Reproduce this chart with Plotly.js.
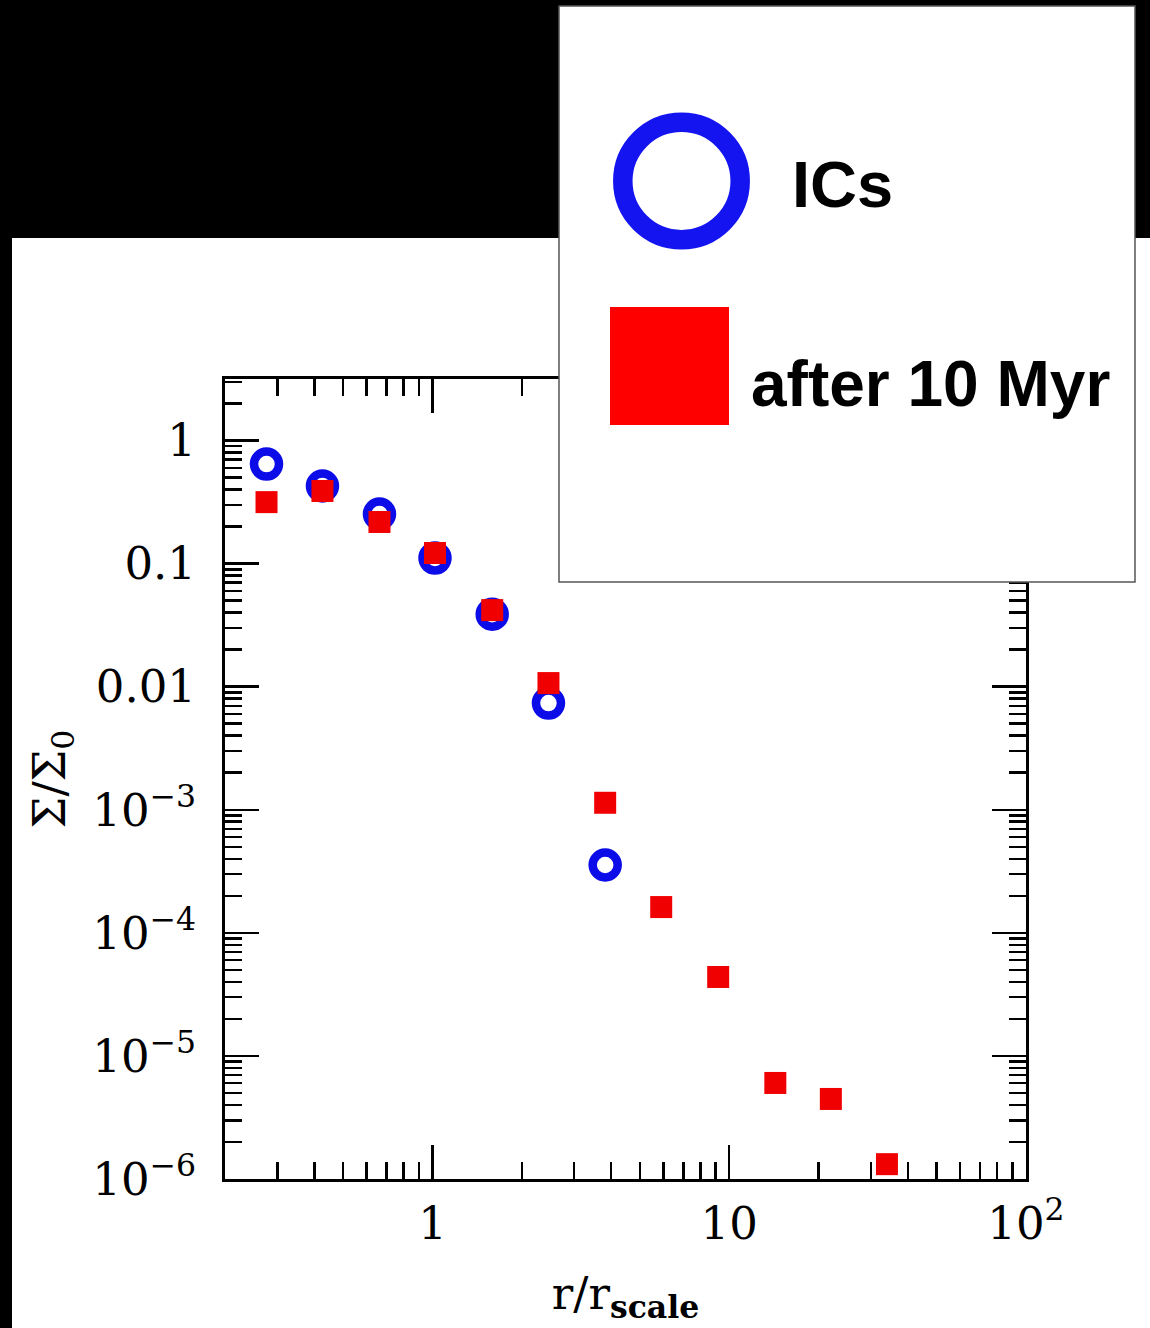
<!DOCTYPE html>
<html>
<head>
<meta charset="utf-8">
<script src="https://cdn.plot.ly/plotly-3.0.1.min.js"></script>
<style>html,body{margin:0;padding:0;background:#000;}#chart{width:1150px;height:1328px;}</style>
</head>
<body>
<div id="chart"></div>
<script>
// ---- data ----
const radius = [0.276, 0.426, 0.663, 1.02, 1.59, 2.46, 3.82, 5.90, 9.18, 14.3, 22.0, 34.0];
const sigmaICs = [0.644, 0.427, 0.253, 0.111, 0.0388, 0.00736, 0.000356];
const sigma10Myr = [0.316, 0.389, 0.218, 0.122, 0.0419, 0.0107, 0.00114, 0.000162, 0.0000438, 0.00000603, 0.00000447, 0.00000132];
const seriesNames = ['ICs', 'after 10 Myr'];
const xTickVals = [1, 10, 100];
const xTickText = ['1', '10', '10<sup>2</sup>'];
const yTickVals = [1e-6, 1e-5, 1e-4, 1e-3, 0.01, 0.1, 1];
const yTickText = ['10<sup>−6</sup>', '10<sup>−5</sup>', '10<sup>−4</sup>', '10<sup>−3</sup>', '0.01', '0.1', '1'];

// ---- layout geometry (pixels) ----
const W = 1150, H = 1328;
const M = {l: 225, r: 124, t: 379, b: 149};
const PW = W - M.l - M.r, PH = H - M.t - M.b;
const px = x => (x - M.l) / PW;
const py = y => (H - M.b - y) / PH;

const blue = '#0c0ce8';
const red = '#f00000';
const serif = 'DejaVu Serif';

const traces = [
  {
    x: radius.slice(0, sigmaICs.length), y: sigmaICs, name: seriesNames[0],
    type: 'scatter', mode: 'markers',
    marker: {symbol: 'circle-open', size: 25, color: blue, line: {width: 8.5, color: blue}},
    showlegend: false
  },
  {
    x: radius, y: sigma10Myr, name: seriesNames[1],
    type: 'scatter', mode: 'markers',
    marker: {symbol: 'square', size: 22, color: red, line: {width: 0}},
    showlegend: false
  }
];

const axisCommon = {
  type: 'log', showgrid: false, zeroline: false,
  showline: true, linewidth: 3, linecolor: '#000', mirror: 'allticks',
  ticks: 'inside', ticklen: 34, tickwidth: 2.5, tickcolor: '#000',
  tickmode: 'array',
  minor: {ticks: 'inside', ticklen: 17, tickwidth: 2.5, tickcolor: '#000', dtick: 'D1', showgrid: false},
  tickfont: {family: serif, size: 45, color: '#000'},
  automargin: false
};

const layout = {
  width: W, height: H,
  margin: M,
  paper_bgcolor: '#000',
  plot_bgcolor: '#fff',
  showlegend: false,
  xaxis: Object.assign({}, axisCommon, {
    range: [Math.log10(0.2), 2],
    tickvals: xTickVals, ticktext: xTickText,
    ticklabelstandoff: 3,
    title: {text: 'r/r<sub><b>scale</b></sub>', font: {family: serif, size: 45, color: '#000'}, standoff: 29}
  }),
  yaxis: Object.assign({}, axisCommon, {
    range: [-6, 0.5],
    tickvals: yTickVals, ticktext: yTickText,
    ticklabelstandoff: 17,
    title: {text: 'Σ/Σ<sub>0</sub>', font: {family: serif, size: 45, color: '#000'}, standoff: 13}
  }),
  shapes: [
    // white page region
    {type: 'rect', xref: 'paper', yref: 'paper', layer: 'below',
     x0: px(12), x1: px(W), y0: py(238), y1: py(H),
     fillcolor: '#fff', line: {width: 0}},
    // legend box
    {type: 'rect', xref: 'paper', yref: 'paper', layer: 'above',
     x0: px(559), x1: px(1135), y0: py(582), y1: py(6),
     fillcolor: '#fff', line: {color: '#555', width: 1.5}},
    // legend symbol: open circle
    {type: 'circle', xref: 'paper', yref: 'paper', layer: 'above',
     x0: px(681.5 - 58.7), x1: px(681.5 + 58.7), y0: py(181 + 58.7), y1: py(181 - 58.7),
     fillcolor: 'rgba(0,0,0,0)', line: {color: '#1414f0', width: 19.5}},
    // legend symbol: filled square
    {type: 'rect', xref: 'paper', yref: 'paper', layer: 'above',
     x0: px(610), x1: px(729), y0: py(425), y1: py(307),
     fillcolor: '#ff0000', line: {width: 0}}
  ],
  annotations: [
    {xref: 'paper', yref: 'paper', x: px(790), y: py(184), xanchor: 'left', yanchor: 'middle',
     text: seriesNames[0], showarrow: false,
     font: {family: 'Liberation Sans', size: 65, weight: 700, color: '#000'}},
    {xref: 'paper', yref: 'paper', x: px(749), y: py(384), xanchor: 'left', yanchor: 'middle',
     text: seriesNames[1], showarrow: false,
     font: {family: 'Liberation Sans', size: 64, weight: 700, color: '#000'}}
  ]
};

Plotly.newPlot('chart', traces, layout, {displayModeBar: false, staticPlot: true});
</script>
</body>
</html>
